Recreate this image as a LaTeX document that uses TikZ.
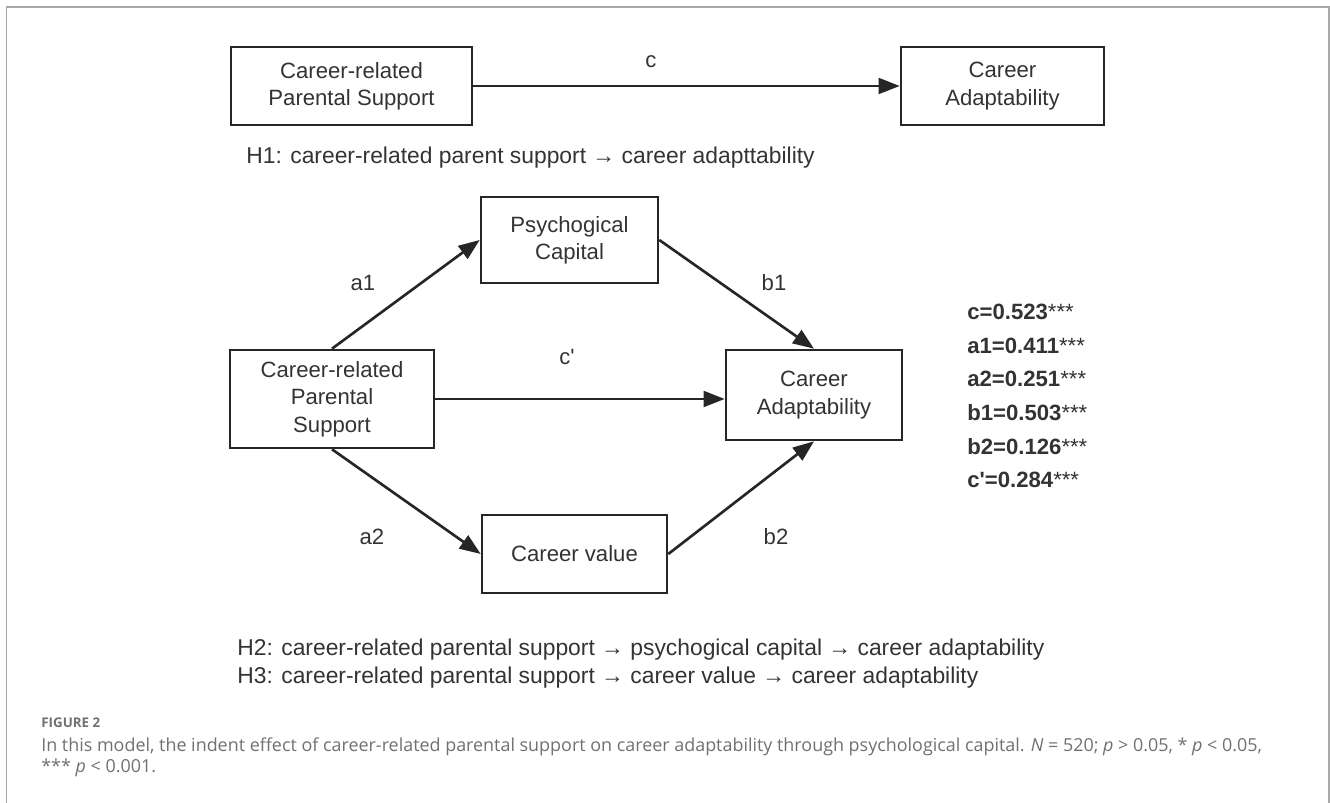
\documentclass[tikz,border=0pt]{standalone}
\usepackage{fontspec}
\setmainfont{Liberation Sans}
\newfontfamily\capfont{Open Sans}
\usetikzlibrary{arrows.meta}
\usetikzlibrary{positioning}
\definecolor{framegray}{HTML}{A8A8A8}
\definecolor{inkgray}{HTML}{262626}
\definecolor{textgray}{HTML}{333333}
\definecolor{capgray}{HTML}{707070}

\begin{document}
\begin{tikzpicture}[x=0.02cm, y=-0.02cm,
  box/.style={draw=inkgray, line width=1.5pt, align=center, text=textgray,
    font=\fontsize{12.6}{15.6}\selectfont, inner sep=0pt},
  arrowline/.style={draw=inkgray, line width=1.5pt, -{Triangle[length=12pt,width=9pt]}},
  lab/.style={text=textgray, font=\fontsize{12.6}{15.3}\selectfont},
  hyp/.style={anchor=west, inner sep=0pt, text=textgray, font=\fontsize{13}{16}\selectfont},
  coef/.style={anchor=west, inner sep=0pt, text=textgray, font=\fontsize{12.6}{15.3}\selectfont},
  captext/.style={anchor=west, inner sep=0pt, text=capgray, font=\capfont\fontsize{10.2}{12}\selectfont},
]
  \useasboundingbox (0,0) rectangle (1330,803);

  % 枠
  \draw[framegray, line width=1.1pt] (6.5,803) -- (6.5,7) -- (1329,7) -- (1329,803);

  % 直接効果のモデル
  \node[box, minimum width=4.82cm, minimum height=1.56cm] (support) at (351.5,86) {Career-related\\Parental Support};
  \node[box, minimum width=4.06cm, minimum height=1.56cm] (adapt) at (1002.5,86) {Career\\Adaptability};
  \draw[arrowline] (support) -- (adapt);
  \node[lab] (c) at (651,62) {c};
  \node[hyp] (h1) at (246,158) {H1: career-related parent support → career adapttability};

  % 媒介モデル
  \node[box, minimum width=3.54cm, minimum height=1.72cm] (psych) at (569.5,240) {Psychogical\\Capital};
  \node[box, minimum width=4.08cm, minimum height=1.96cm] (msupport) at (332,399) {Career-related\\Parental\\Support};
  \node[box, minimum width=3.52cm, minimum height=1.80cm] (madapt) at (814,395) {Career\\Adaptability};
  \node[box, minimum width=3.70cm, minimum height=1.56cm] (value) at (574.5,554) {Career value};

  \draw[arrowline] (msupport.north) -- (psych.west);
  \draw[arrowline] (psych.east) -- (madapt.north);
  \draw[arrowline] (msupport.east) -- (msupport.east -| madapt.west);
  \draw[arrowline] (msupport.south) -- (value.west);
  \draw[arrowline] (value.east) -- (madapt.south);

  % パスのラベル
  \node[lab] (a1) at (363,283) {a1};
  \node[lab] (b1) at (774,283) {b1};
  \node[lab] (cp) at (567,357) {c\textquotesingle};
  \node[lab] (a2) at (372,537) {a2};
  \node[lab] (b2) at (776,537) {b2};

  % 係数
  \node[coef] (kc)  at (967,312) {\textbf{c=0.523}***};
  \node[coef] (ka1) at (967,345.6) {\textbf{a1=0.411}***};
  \node[coef] (ka2) at (967,379.2) {\textbf{a2=0.251}***};
  \node[coef] (kb1) at (967,412.8) {\textbf{b1=0.503}***};
  \node[coef] (kb2) at (967,446.4) {\textbf{b2=0.126}***};
  \node[coef] (kcp) at (967,480) {\textbf{c\textquotesingle=0.284}***};

  % 仮説
  \node[hyp] (h2) at (237,650) {H2: career-related parental support → psychogical capital → career adaptability};
  \node[hyp] (h3) at (237,678) {H3: career-related parental support → career value → career adaptability};

  % キャプション
  \node[captext, font=\capfont\bfseries\fontsize{7.6}{9}\selectfont] (fig) at (41,723) {FIGURE 2};
  \node[captext] (cap1) at (41,747) {In this model, the indent effect of career-related parental support on career adaptability through psychological capital. \textit{N} = 520; \textit{p} > 0.05, * \textit{p} < 0.05,};
  \node[captext] (cap2) at (41,768) {*** \textit{p} < 0.001.};
\end{tikzpicture}
\end{document}
